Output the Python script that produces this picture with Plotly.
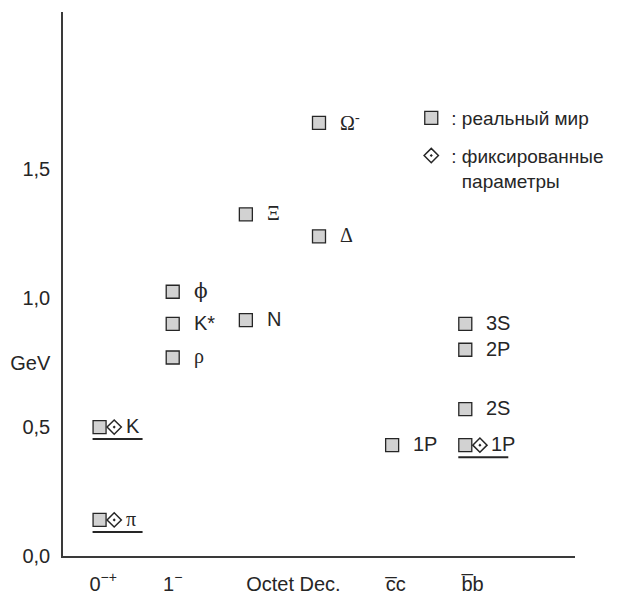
import plotly.graph_objects as go

# --------------------------------------------------------------------------------------------
# data (masses in GeV)
groups = ["0<sup>−+</sup>", "1<sup>−</sup>", "Octet Dec.", "c\u0305c", "b\u0305b"]
group_pos = [0.05, 1, 2.65, 4.05, 5.1]

# real-world states: column index, mass, label
real_col = [0, 0, 1, 1, 1, 2, 2, 3, 3, 4, 5, 5, 5, 5]
real_mass = [0.14, 0.50, 0.77, 0.90, 1.025, 0.915, 1.325, 1.24, 1.68, 0.43, 0.43, 0.57, 0.80, 0.90]
real_label = ["π", "K", "ρ", "K*", "ϕ", "N", "Ξ", "Δ", "Ω<sup>-</sup>", "1P", "1P", "2S", "2P", "3S"]

# states used as fixed parameters (marked with a dotted diamond and underlined)
fixed_col = [0, 0, 5]
fixed_mass = [0.14, 0.50, 0.43]

yticks = [0, 0.5, 0.75, 1.0, 1.5]
yticktext = ["0,0", "0,5", "GeV", "1,0", "1,5"]

# --------------------------------------------------------------------------------------------
_ink = "#262626"
_font = "Liberation Sans"
_serif = "Liberation Serif, DejaVu Serif, serif"
_greek = set("πρΞΔΩ")
diamond_dx = 0.2

fig = go.Figure()

fig.add_trace(go.Scatter(
    x=real_col, y=real_mass, mode="markers", name=": реальный мир",
    legendgroup="a",
    marker=dict(symbol="square", size=13, color="#d2d2d2", line=dict(color=_ink, width=1.3)),
    hoverinfo="skip"))

fig.add_trace(go.Scatter(
    x=[c + diamond_dx for c in fixed_col], y=fixed_mass, mode="markers",
    name=": фиксированные<br>\u00a0\u00a0параметры", legendgroup="b",
    marker=dict(symbol="diamond-open-dot", size=11, color=_ink, line=dict(color=_ink, width=1.5)),
    hoverinfo="skip"))

# labels next to the markers
fixed_pairs = set(zip(fixed_col, fixed_mass))
for c, m, lab in zip(real_col, real_mass, real_label):
    is_fixed = (c, m) in fixed_pairs
    if lab == "ϕ":
        fam = "DejaVu Serif"
    elif lab[0] in _greek:
        fam = _serif
    else:
        fam = _font
    fig.add_annotation(x=c, y=m, text=lab, showarrow=False, xanchor="left",
                       xshift=24 if is_fixed else 19, yshift=1,
                       font=dict(family=fam, size=20, color=_ink))

# underline the fixed-parameter groups
for c, m in zip(fixed_col, fixed_mass):
    fig.add_shape(type="line", xref="x", yref="y",
                  xsizemode="pixel", xanchor=c, x0=-7, x1=43,
                  ysizemode="pixel", yanchor=m, y0=-12, y1=-12,
                  line=dict(color=_ink, width=2))

# page body has an 8px margin, so the figure is 8px smaller than the window
fig.update_layout(
    width=611, height=587,
    margin=dict(l=55, r=44, t=4, b=39, pad=0, autoexpand=False),
    plot_bgcolor="white", paper_bgcolor="white",
    font=dict(family=_font, size=20, color=_ink),
    showlegend=True,
    legend=dict(xref="container", yref="container", x=0.66, y=0.845,
                xanchor="left", yanchor="top", valign="top",
                font=dict(size=19, color=_ink), tracegroupgap=10,
                bgcolor="rgba(0,0,0,0)", itemwidth=30),
)

fig.update_xaxes(range=[-0.5, 6.5], showgrid=False, zeroline=False,
                 showline=True, linecolor="#3a3a3a", linewidth=1.5,
                 tickvals=group_pos, ticktext=groups, ticks="",
                 ticklabelstandoff=9, tickfont=dict(size=20))
fig.update_yaxes(range=[0, 2.11], showgrid=False, zeroline=False,
                 showline=True, linecolor="#3a3a3a", linewidth=1.5,
                 tickvals=yticks, ticktext=yticktext, ticks="",
                 ticklabelstandoff=7, tickfont=dict(size=20))

fig.write_html("out.html")
